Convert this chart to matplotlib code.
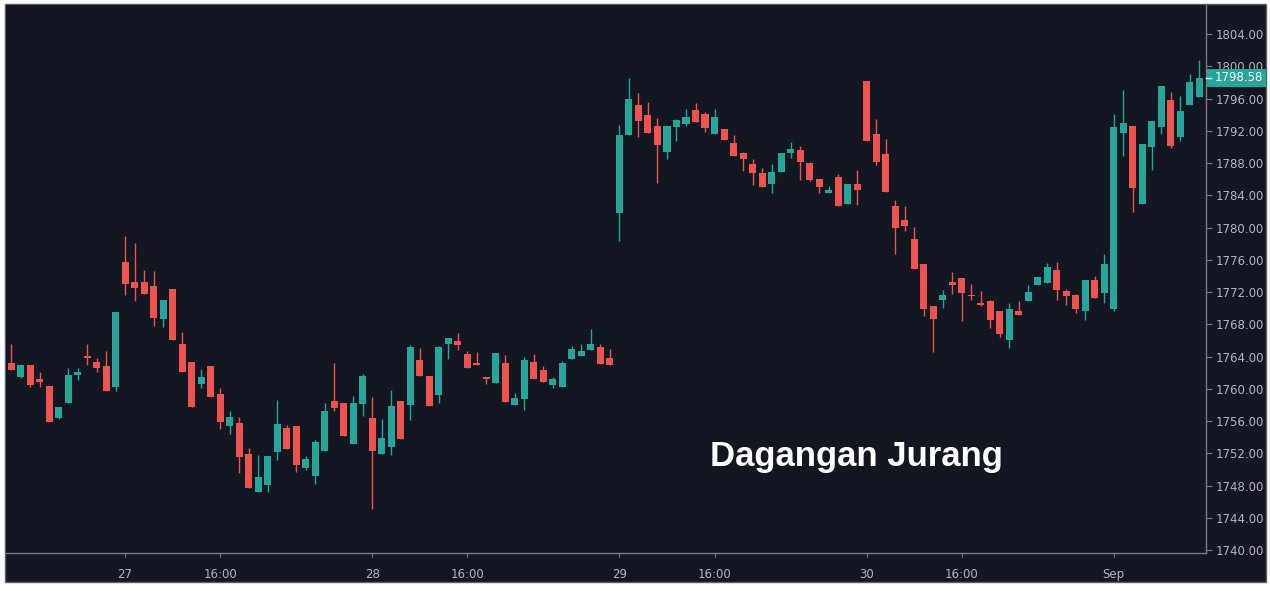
import matplotlib
matplotlib.use("Agg")
import matplotlib.pyplot as plt
from matplotlib.patches import Rectangle
import numpy as np

opens = [1763.20, 1761.46, 1762.95, 1761.21, 1760.34, 1756.37, 1758.23, 1761.71, 1764.06, 1763.32,
         1762.82, 1760.22, 1775.72, 1773.24, 1773.24, 1772.74, 1768.65, 1772.37, 1765.55, 1763.32,
         1760.59, 1762.82, 1759.35, 1755.38, 1755.75, 1751.91, 1747.20, 1748.06, 1752.16, 1755.13,
         1755.38, 1750.17, 1749.18, 1752.28, 1758.48, 1758.23, 1753.15, 1758.11, 1756.37, 1751.91,
         1752.78, 1758.48, 1757.98, 1763.57, 1761.58, 1759.23, 1765.55, 1765.93, 1764.31, 1763.20,
         1761.46, 1760.72, 1763.20, 1757.99, 1758.73, 1763.32, 1762.33, 1760.47, 1760.22, 1763.69,
         1764.06, 1764.81, 1765.18, 1763.82, 1781.80, 1791.47, 1795.19, 1793.95, 1792.59, 1789.37,
         1792.46, 1792.84, 1794.57, 1794.08, 1791.60, 1792.22, 1790.48, 1789.24, 1787.88, 1786.76,
         1785.40, 1786.88, 1789.24, 1789.62, 1788.00, 1786.02, 1784.28, 1786.27, 1782.92, 1785.40,
         1798.17, 1791.60, 1789.12, 1782.67, 1780.93, 1778.58, 1775.47, 1770.27, 1771.01, 1773.24,
         1773.74, 1771.63, 1770.64, 1770.89, 1769.65, 1766.05, 1769.65, 1770.89, 1772.87, 1773.12,
         1774.73, 1772.13, 1771.63, 1769.65, 1773.49, 1771.88, 1769.89, 1791.72, 1792.59, 1782.92,
         1789.99, 1792.47, 1795.81, 1791.23, 1795.19, 1796.19]
highs = [1765.55, 1763.07, 1762.95, 1762.08, 1760.34, 1757.74, 1762.58, 1762.58, 1765.55, 1763.81,
         1764.68, 1769.52, 1778.95, 1778.08, 1774.73, 1774.61, 1771.01, 1772.37, 1767.04, 1763.32,
         1762.45, 1762.82, 1760.09, 1757.24, 1756.50, 1752.65, 1751.79, 1751.66, 1758.61, 1755.51,
         1755.38, 1751.66, 1753.65, 1758.23, 1763.20, 1758.23, 1759.10, 1761.83, 1758.98, 1756.25,
         1759.85, 1758.48, 1765.43, 1765.06, 1761.58, 1765.30, 1766.30, 1766.92, 1764.69, 1764.56,
         1761.46, 1764.44, 1764.19, 1759.48, 1763.94, 1764.31, 1762.83, 1761.46, 1763.44, 1765.30,
         1765.55, 1767.41, 1765.55, 1764.93, 1792.71, 1798.54, 1796.68, 1795.57, 1793.58, 1792.59,
         1793.46, 1794.70, 1795.44, 1794.33, 1794.70, 1792.22, 1791.47, 1789.37, 1788.50, 1787.38,
         1787.88, 1789.24, 1790.61, 1790.11, 1788.13, 1786.02, 1785.15, 1786.64, 1785.40, 1787.13,
         1798.17, 1793.46, 1790.98, 1783.41, 1782.67, 1780.06, 1775.47, 1770.27, 1772.25, 1774.48,
         1773.74, 1773.00, 1772.12, 1771.01, 1769.65, 1770.64, 1770.89, 1772.87, 1773.86, 1775.60,
         1775.72, 1772.37, 1771.76, 1773.49, 1773.99, 1776.72, 1794.08, 1797.05, 1792.59, 1790.36,
         1793.21, 1797.55, 1796.80, 1796.31, 1799.04, 1800.78]
lows = [1762.33, 1761.33, 1760.22, 1760.22, 1755.88, 1756.25, 1758.23, 1761.09, 1762.95, 1762.08,
        1759.72, 1759.72, 1771.63, 1770.88, 1771.75, 1767.78, 1767.66, 1766.05, 1762.08, 1757.74,
        1760.09, 1758.98, 1755.01, 1754.39, 1749.55, 1747.69, 1747.20, 1747.20, 1751.17, 1752.53,
        1749.68, 1749.93, 1748.19, 1752.28, 1757.24, 1754.14, 1753.15, 1756.62, 1745.09, 1751.91,
        1751.79, 1753.77, 1756.12, 1761.58, 1757.86, 1758.24, 1763.69, 1764.81, 1762.58, 1762.95,
        1760.59, 1760.72, 1758.36, 1757.99, 1757.37, 1761.21, 1760.84, 1760.10, 1760.22, 1763.69,
        1764.06, 1764.81, 1763.07, 1762.95, 1778.33, 1791.47, 1791.23, 1791.72, 1785.52, 1788.50,
        1790.73, 1792.59, 1793.09, 1791.85, 1791.60, 1790.85, 1788.87, 1787.01, 1785.27, 1785.02,
        1784.28, 1786.88, 1788.62, 1785.89, 1785.77, 1784.28, 1784.28, 1782.67, 1782.92, 1782.79,
        1790.73, 1787.75, 1784.40, 1776.72, 1779.57, 1774.85, 1769.03, 1764.56, 1770.02, 1771.76,
        1768.41, 1771.01, 1770.27, 1767.54, 1766.42, 1765.06, 1769.15, 1770.89, 1772.87, 1773.12,
        1771.01, 1770.39, 1769.40, 1768.53, 1771.26, 1770.64, 1769.65, 1788.87, 1781.92, 1782.92,
        1787.13, 1791.60, 1789.86, 1790.73, 1795.19, 1796.19]
closes = [1762.33, 1762.95, 1760.47, 1760.84, 1755.88, 1757.74, 1761.71, 1762.08, 1763.81, 1762.58,
          1759.72, 1769.52, 1772.99, 1772.50, 1771.75, 1768.78, 1771.01, 1766.05, 1762.08, 1757.74,
          1761.46, 1758.98, 1755.88, 1756.50, 1751.54, 1747.69, 1749.06, 1751.66, 1755.63, 1752.53,
          1750.55, 1751.29, 1753.40, 1757.24, 1757.62, 1754.14, 1758.23, 1761.58, 1752.28, 1753.89,
          1757.86, 1753.77, 1765.18, 1761.58, 1757.86, 1765.18, 1766.30, 1765.43, 1762.58, 1762.95,
          1761.21, 1764.44, 1758.36, 1758.86, 1763.57, 1761.21, 1760.84, 1761.21, 1763.20, 1764.93,
          1764.69, 1765.55, 1763.07, 1762.95, 1791.47, 1795.94, 1793.21, 1791.72, 1790.23, 1792.59,
          1793.33, 1793.71, 1793.09, 1792.34, 1793.71, 1790.85, 1788.87, 1788.50, 1786.76, 1785.02,
          1786.88, 1789.24, 1789.74, 1788.13, 1785.89, 1785.02, 1784.65, 1782.67, 1785.40, 1784.65,
          1790.73, 1788.13, 1784.40, 1779.94, 1780.19, 1774.85, 1769.90, 1768.65, 1771.63, 1772.87,
          1771.88, 1771.51, 1770.39, 1768.53, 1766.79, 1769.89, 1769.15, 1772.00, 1773.86, 1775.10,
          1772.25, 1771.50, 1769.89, 1773.49, 1771.26, 1775.48, 1792.47, 1792.96, 1784.90, 1790.36,
          1793.21, 1797.55, 1790.11, 1794.45, 1798.05, 1798.58]

time_tick_bars = [12, 22, 38, 48, 64, 74, 90, 100, 116]
time_tick_labels = ["27", "16:00", "28", "16:00", "29", "16:00", "30", "16:00", "Sep"]
price_ticks = list(range(1740, 1805, 4))
last_price = 1798.58
title = "AMAZON COM INC, 15, Cboe BZX"
annotation = "Dagangan Jurang"

BG = "#131722"
UP = "#26a69a"
DOWN = "#ef5350"
AXC = "#787b86"
TXT = "#b2b5be"

W, H = 1270, 591
fig = plt.figure(figsize=(W / 100, H / 100), dpi=100)
fig.patch.set_facecolor("white")

# dark panel with border (drawn behind the axes)
panel = Rectangle((5 / W, (H - 582) / H), (1266 - 5) / W, (582 - 4) / H,
                  transform=fig.transFigure, facecolor=BG, edgecolor="#5d606b",
                  linewidth=1.0, zorder=-10)
fig.patches.append(panel)

left, right, top, bottom = 6, 1206, 5, 553
ax = fig.add_axes([left / W, (H - bottom) / H, (right - left) / W, (bottom - top) / H])
ax.set_zorder(5)
ax.set_facecolor(BG)

o = np.array(opens); h = np.array(highs); l = np.array(lows); c = np.array(closes)
x = np.arange(len(o))
colors = [UP if cc >= oo else DOWN for oo, cc in zip(o, c)]
body_lo = np.minimum(o, c)
body_h = np.maximum(np.abs(c - o), 0.13)
ax.vlines(x, l, h, colors=colors, linewidth=1.0, zorder=2)
ax.bar(x, body_h, bottom=body_lo, width=0.74, color=colors, linewidth=0, zorder=3)

ax.set_xlim(-0.53, 125.7)
ax.set_ylim(1739.63, 1807.6)

for s in ["top", "left"]:
    ax.spines[s].set_visible(False)
ax.spines["right"].set_color(AXC)
ax.spines["bottom"].set_color(AXC)
ax.spines["right"].set_linewidth(1.0)
ax.spines["bottom"].set_linewidth(1.0)

ax.yaxis.tick_right()
ax.set_yticks(price_ticks)
ax.set_yticklabels([f"{v:.2f}" for v in price_ticks])
ax.tick_params(axis="y", colors=AXC, labelcolor=TXT, labelsize=8.5, length=4, pad=3)
ax.set_xticks(time_tick_bars)
ax.set_xticklabels(time_tick_labels)
ax.tick_params(axis="x", colors=AXC, labelcolor=TXT, labelsize=8.5, length=3, pad=8)
for t in ax.get_xticklabels() + ax.get_yticklabels():
    t.set_fontfamily("DejaVu Sans")

# last price label: teal box spanning the price scale
ytrans = ax.get_yaxis_transform()
axw = right - left
box = Rectangle((1.0 + 1 / axw, 0), 59 / axw, 1, transform=ytrans, visible=False)
ymid_px = ax.transData.transform((0, last_price))[1]
box_h = 18 / (ax.bbox.height)
ybox = ax.transAxes.inverted().transform((0, ymid_px))[1]
label_box = Rectangle((1.0 + 1 / axw, ybox - box_h / 2), 59 / axw, box_h,
                      transform=ax.transAxes, facecolor=UP, edgecolor="none",
                      clip_on=False, zorder=20)
ax.add_patch(label_box)
ax.text(1.0 + 9 / axw, last_price, f"{last_price:.2f}", transform=ytrans,
        ha="left", va="center", fontsize=8.5, color="white", zorder=22,
        family="DejaVu Sans", clip_on=False)
ax.plot([1.0, 1.0 + 5 / axw], [last_price, last_price], color="white",
        linewidth=1, transform=ytrans, clip_on=False, zorder=21)

fig.text(14 / W, 1 - 20 / H, title, color="#d1d4dc", fontsize=8.5,
         fontweight="semibold", va="center", ha="left", family="DejaVu Sans")
ax.text(0.709, 0.176, annotation, transform=ax.transAxes,
        color="white", fontsize=25, fontweight="bold", ha="center", va="center",
        family="Liberation Sans")

fig.savefig("out.png", dpi=100, facecolor=fig.get_facecolor())
